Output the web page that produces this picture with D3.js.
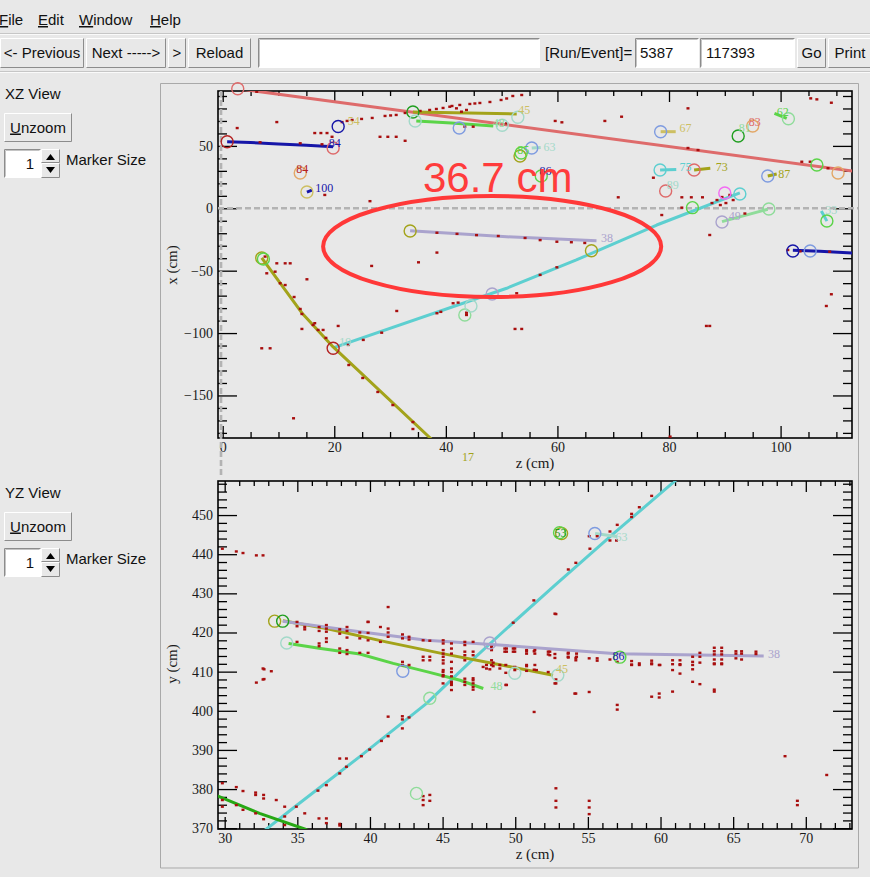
<!DOCTYPE html>
<html>
<head>
<meta charset="utf-8">
<script src="https://cdn.jsdelivr.net/npm/d3@7"></script>
<style>
  body { margin: 0; background: #e8e8e8; overflow: hidden; }
  svg text { font-kerning: normal; }
</style>
</head>
<body>
<svg id="display" width="870" height="877"></svg>
<script>
// ---------- event 5387 / 117393 : reconstructed objects ----------
const runNumber = "5387";
const eventNumber = "117393";
const menuItems = ["File", "Edit", "Window", "Help"];

// XZ view ranges and ticks (cm)
const xzZRange = [-0.84, 112.8];
const xzXRange = [-184.1, 94.0];
const xzZTicks = [0, 20, 40, 60, 80, 100];
const xzXTicks = [-150, -100, -50, 0, 50];

// YZ view ranges and ticks (cm)
const yzZRange = [29.54, 73.18];
const yzYRange = [369.8, 458.7];
const yzZTicks = [30, 35, 40, 45, 50, 55, 60, 65, 70];
const yzYTicks = [370, 380, 390, 400, 410, 420, 430, 440, 450];

// track colours
const C = {
  salmon: "#de6b6b", darkred: "#b42222", navy: "#1616a8", orange: "#e3a766",
  olive: "#a3a31a", darkgreen: "#1f9e1f", paleteal: "#a3d9c9", cornflower: "#7e9be0",
  green: "#5bd448", cyan: "#5dcfd0", magenta: "#f36af3", lavender: "#aaa3cd",
  paleolive: "#cdbf62", palegreen: "#8fdc9a", darkgreen2: "#27a814"
};

// XZ tracks: [z, x]
const xzTracks = [
  { id: "salmon", color: C.salmon, pts: [[2.7, 95.8], [115.0, 28.6]] },
  { id: "84", color: C.navy, pts: [[0.8, 53.3], [5.0, 52.7], [10.0, 51.5], [15.0, 50.6], [19.8, 49.4]] },
  { id: "45", color: C.olive, pts: [[34.1, 77.2], [52.7, 75.6]] },
  { id: "48", color: C.green, pts: [[34.7, 70.0], [41.0, 68.3], [48.5, 65.9]] },
  { id: "38", color: C.lavender, pts: [[33.6, -18.0], [50.9, -22.8], [67.0, -26.0]] },
  { id: "19", color: C.cyan, pts: [[19.8, -111.9], [50.9, -64.1], [63.4, -41.4], [77.8, -13.4], [92.7, 12.3]] },
  { id: "17", color: C.olive, pts: [[7.0, -39.8], [14.2, -83.9], [19.8, -111.1], [37.2, -184.1], [40.0, -195.9]] },
  { id: "navyR", color: C.navy, pts: [[102.2, -33.6], [107.0, -34.5], [112.8, -35.9], [115.0, -36.4]] },
  { id: "49", color: C.palegreen, pts: [[89.5, -10.7], [97.7, -0.8]] },
  { id: "33", color: C.cyan, pts: [[108.3, -10.3], [107.3, -2.2]] },
  { id: "67", color: C.paleolive, pts: [[78.5, 61.4], [81.2, 61.4]] },
  { id: "75", color: C.cyan, pts: [[78.4, 30.7], [81.3, 31.1]] },
  { id: "73", color: C.olive, pts: [[84.5, 30.7], [87.4, 32.0]] },
  { id: "87", color: C.olive, pts: [[97.7, 25.9], [99.3, 27.5]] },
  { id: "62", color: C.green, pts: [[98.9, 76.1], [101.1, 72.1]] },
  { id: "63", color: C.paleteal, pts: [[55.4, 48.3], [57.0, 48.8]] },
  { id: "100", color: C.navy, pts: [[15.1, 13.0], [16.0, 14.5]] }
];

// XZ vertices: [z, x, colour]
const xzVertices = [
  [2.7, 95.8, C.salmon], [0.8, 53.3, C.darkred], [19.8, 48.3, C.salmon], [20.7, 65.6, C.navy],
  [13.9, 28.3, C.orange], [15.1, 13.0, C.paleolive], [34.1, 77.2, C.darkgreen], [34.5, 69.9, C.paleteal],
  [42.4, 64.3, C.cornflower], [50.1, 66.5, C.paleteal], [52.9, 73.0, C.paleteal], [53.3, 41.9, C.olive],
  [53.5, 44.3, C.green], [55.4, 48.3, C.cornflower], [57.1, 25.9, C.green], [78.5, 61.4, C.cornflower],
  [95.0, 66.0, C.orange], [92.4, 57.9, C.darkgreen], [101.4, 71.8, C.palegreen], [78.4, 30.7, C.cyan],
  [84.5, 30.7, C.salmon], [79.4, 13.9, C.salmon], [97.7, 25.9, C.cornflower], [84.2, 0.5, C.green],
  [106.5, 34.7, C.green], [110.3, 28.3, C.orange], [90.0, 12.3, C.magenta], [92.7, 11.5, C.cyan],
  [89.5, -11.0, C.lavender], [97.9, -0.6, C.palegreen], [108.3, -10.2, C.green], [102.2, -34.2, C.navy],
  [105.3, -34.2, C.cornflower], [33.6, -18.2, C.olive], [66.1, -34.0, C.olive], [7.0, -39.8, C.olive],
  [7.3, -40.6, C.green], [19.8, -112.2, C.darkred], [48.3, -68.7, C.lavender], [43.4, -85.5, C.palegreen],
  [44.5, -78.3, C.paleteal]
];

// XZ track labels: [text, z, x, colour]
const xzLabels = [
  ["84", 19.0, 52.3, C.navy], ["45", 53.0, 78.5, C.paleolive], ["48", 48.4, 68.6, C.palegreen],
  ["38", 67.8, -23.6, C.lavender], ["19", 20.9, -107.0, C.paleteal], ["17", 42.9, -199.5, C.olive],
  ["67", 81.9, 64.3, C.paleolive], ["83", 94.3, 69.5, C.salmon], ["81", 92.5, 64.3, C.palegreen],
  ["62", 99.3, 77.2, C.green], ["75", 81.9, 33.3, C.cyan], ["73", 88.4, 33.3, C.olive],
  ["89", 79.6, 18.5, C.paleteal], ["87", 99.6, 27.5, C.olive], ["63", 57.5, 49.3, C.paleteal],
  ["85", 52.8, 46.5, C.green], ["86", 56.8, 29.5, C.navy], ["84", 13.2, 31.5, C.darkred],
  ["100", 16.6, 16.5, C.navy], ["54", 22.4, 70.0, C.paleolive], ["49", 90.7, -6.0, C.lavender],
  ["33", 108.0, -1.5, C.paleteal]
];

// XZ hits: [z, x]
const xzHits = [
  [6.1, 93.4], [2.6, 64.3], [9.7, 69.1],
  [21.4, 69.1], [22.3, 70.0], [23.2, 70.8], [24.9, 71.6], [26.8, 72.4], [29.1, 74.0], [30.1, 74.4],
  [31.1, 74.8], [32.7, 76.4], [35.4, 78.0], [37.1, 78.8], [38.3, 79.6], [39.5, 80.4], [41.1, 82.0],
  [42.5, 82.8], [44.3, 83.6], [45.2, 84.0], [46.1, 84.4], [47.9, 85.2], [49.9, 86.8], [50.9, 88.0],
  [52.0, 90.0], [53.6, 90.8],
  [16.5, 60.3], [17.6, 60.3], [18.7, 60.3], [19.6, 57.3], [28.2, 57.3], [29.6, 57.3], [31.1, 57.3], [32.7, 54.1],
  [18.3, 10.7], [26.4, 5.7], [38.4, -35.5],
  [40.7, 81.4], [41.9, 80.1], [42.8, 77.4], [43.7, 78.8], [44.9, 65.4], [43.4, 65.4],
  [59.6, 70.0], [60.8, 68.9], [68.5, 70.0], [71.5, 73.4], [83.4, 80.1], [105.4, 88.1], [106.5, 87.3], [109.1, 84.6],
  [77.2, 24.5], [70.9, 8.8], [82.3, 8.8], [84.0, 8.8], [86.0, 8.8], [82.3, 0.5], [78.7, -5.4], [87.3, -21.4],
  [88.6, 6.6], [89.5, 9.0], [90.2, 4.2], [90.9, 10.7], [91.5, 6.6], [89.2, 2.6], [87.7, 4.2],
  [93.6, -4.2], [103.8, 37.3], [105.3, 37.3], [108.5, 32.1], [50.9, 68.1],
  [101.3, -33.4], [103.5, -34.5], [108.8, -34.8],
  [54.2, -23.8], [56.9, -25.5], [59.9, -26.8], [62.5, -27.2], [64.9, -27.8], [38.4, -19.6], [49.4, -22.2],
  [42.0, -20.5], [45.5, -21.5], [85.2, 46.7], [83.4, 48.3],
  [7.6, -38.7], [9.7, -44.1], [7.9, -52.1], [9.4, -50.8], [11.2, -44.1], [12.1, -44.1], [15.1, -56.9], [10.3, -60.1],
  [11.2, -61.5], [12.8, -71.1], [13.9, -80.7], [14.2, -84.7], [16.2, -93.5], [17.1, -97.5], [18.5, -103.9],
  [22.6, -125.6], [25.1, -136.0], [27.8, -147.2], [30.5, -157.7], [34.1, -171.3], [34.1, -176.9],
  [16.5, -92.1], [18.0, -97.5], [14.2, -96.7], [20.7, -94.3], [7.0, -112.2], [8.5, -112.2],
  [22.5, -109.5], [25.2, -105.5], [28.5, -99.7], [31.2, -82.3], [38.4, -84.1], [39.1, -83.0], [41.3, -76.1],
  [42.2, -75.6], [43.7, -83.7], [43.7, -85.5], [26.7, -46.2], [35.1, -43.3], [12.7, -168.3],
  [52.4, -96.7], [53.6, -96.7], [52.7, -68.1], [59.9, -47.3], [56.9, -53.4], [86.7, -94.3], [87.3, -94.3],
  [80.2, -183.0], [109.1, -68.9], [108.2, -78.3], [6.7, 52.9], [13.9, 52.1], [17.8, 51.3]
];

// YZ tracks: [z, y]
const yzTracks = [
  { id: "19", color: C.cyan, pts: [[32.6, 369.0], [34.7, 375.1], [39.3, 388.3], [43.9, 401.9], [46.9, 412.5], [48.9, 419.3], [52.7, 432.0], [56.9, 445.7], [60.9, 458.4], [61.2, 459.4]] },
  { id: "dg", color: C.darkgreen2, pts: [[29.3, 378.6], [32.4, 373.8], [35.5, 369.8], [36.0, 369.0]] },
  { id: "45", color: C.olive, pts: [[34.0, 423.0], [37.0, 421.0], [41.1, 417.6], [45.0, 414.6], [48.5, 412.1], [52.6, 409.1]] },
  { id: "38", color: C.lavender, pts: [[34.0, 422.9], [39.3, 420.2], [43.9, 418.0], [48.9, 416.8], [57.0, 414.6], [67.1, 414.0]] },
  { id: "48", color: C.green, pts: [[34.4, 417.2], [36.5, 416.0], [39.3, 414.5], [41.6, 412.1], [43.9, 410.0], [46.2, 407.8], [47.8, 405.7]] },
  { id: "63", color: C.paleteal, pts: [[55.5, 445.3], [57.0, 444.5]] }
];

// YZ vertices: [z, y, colour]
const yzVertices = [
  [33.44, 422.9, C.olive], [33.99, 422.9, C.darkgreen], [34.27, 417.3, C.paleteal], [42.26, 410.1, C.cornflower],
  [44.12, 403.2, C.palegreen], [43.2, 378.9, C.palegreen], [49.97, 409.6, C.paleteal], [52.93, 409.1, C.paleteal],
  [48.25, 417.3, C.lavender], [53.19, 445.3, C.olive], [53.05, 445.5, C.green], [55.48, 445.3, C.cornflower],
  [57.2, 413.7, C.green]
];

// YZ track labels: [text, z, y, colour]
const yzLabels = [
  ["45", 52.8, 410.6, C.paleolive], ["38", 67.4, 414.6, C.lavender], ["48", 48.3, 406.4, C.palegreen],
  ["63", 56.9, 444.4, C.paleteal], ["53", 52.7, 445.4, C.darkgreen], ["86", 56.7, 413.9, C.navy]
];

// YZ hits: [z, y]
const yzHits = [
  [34.98, 422.7], [34.98, 421.6], [35.51, 421.4], [35.51, 420.8], [36.50, 421.4], [36.50, 420.4], [37.00, 421.9],
  [37.00, 421.0], [37.00, 420.2], [37.00, 418.5], [37.00, 417.6], [37.92, 420.8], [37.92, 419.7], [38.42, 421.4],
  [38.42, 420.4], [38.42, 418.7], [39.30, 420.0], [39.30, 418.5], [39.87, 422.7], [39.87, 419.9], [39.87, 418.0],
  [40.72, 421.4], [40.72, 417.6], [41.25, 421.0], [41.25, 420.0], [41.25, 418.9], [42.24, 419.5], [42.24, 418.5],
  [42.69, 418.9], [42.69, 418.2], [43.66, 418.0], [44.12, 417.9], [45.04, 418.0], [45.04, 417.2], [45.04, 415.5],
  [45.04, 414.6], [45.04, 413.8], [45.04, 412.9], [45.04, 412.1], [45.61, 417.2], [45.61, 415.9], [45.61, 414.6],
  [45.61, 412.5], [46.53, 417.6], [46.53, 416.8], [46.53, 415.1], [46.53, 414.2], [46.53, 412.9], [47.10, 417.6],
  [47.10, 415.1], [47.10, 414.2], [48.37, 416.3], [48.37, 415.5], [48.37, 412.9], [48.37, 411.7], [49.40, 415.9],
  [49.40, 415.1], [49.86, 415.9], [49.86, 415.1], [50.78, 415.5], [50.78, 414.6], [51.35, 415.5], [51.35, 414.6],
  [52.38, 415.1], [52.38, 414.2], [53.64, 414.6], [53.64, 413.8], [54.22, 414.6], [54.22, 413.8],
  [34.98, 417.6], [36.50, 417.2], [36.50, 416.5], [37.92, 415.9], [37.92, 414.8], [38.42, 415.5], [38.42, 414.5],
  [39.30, 414.8], [39.87, 414.8], [42.24, 412.5], [42.24, 411.7], [42.69, 411.7], [43.66, 413.8], [43.66, 412.9],
  [44.12, 413.8], [44.12, 412.9], [45.04, 410.4], [45.04, 409.1], [45.61, 410.8], [45.61, 409.9], [45.61, 407.4],
  [45.61, 406.6], [45.61, 405.3], [46.53, 408.2], [46.53, 407.4], [47.10, 407.8], [47.10, 407.0], [47.10, 406.1],
  [48.02, 411.7], [48.02, 410.8], [48.48, 412.3], [48.48, 411.4], [48.94, 411.7], [48.94, 410.8], [49.40, 406.6],
  [50.78, 411.7], [51.35, 411.7], [51.46, 410.4], [52.73, 424.8], [52.73, 407.0], [54.10, 404.4],
  [32.64, 410.8], [33.21, 410.1], [32.64, 408.0], [41.25, 426.5], [32.18, 407.2], [32.71, 408.1], [32.71, 410.6],
  [41.25, 398.5], [42.23, 398.6], [42.23, 397.8], [42.23, 395.5], [42.69, 398.3], [40.79, 392.3], [41.25, 393.5],
  [39.98, 390.1], [39.41, 388.4], [37.92, 387.8], [38.38, 387.8], [38.38, 385.7], [37.92, 384.0], [37.00, 381.0],
  [36.42, 379.6], [35.51, 373.8], [34.93, 375.5], [34.13, 375.5], [34.13, 373.0], [34.13, 370.8], [33.55, 377.2],
  [32.68, 378.5], [32.68, 377.6], [32.13, 379.1], [32.13, 378.5], [31.26, 379.5], [30.80, 380.5], [29.84, 381.5],
  [29.84, 377.2], [29.84, 375.5], [30.80, 375.9], [31.26, 374.7], [32.13, 373.8], [32.68, 372.3], [36.49, 372.5],
  [37.00, 372.5], [37.00, 371.3], [37.92, 371.1], [37.92, 370.7], [43.66, 378.2], [43.66, 377.2], [43.66, 375.9],
  [44.12, 378.5], [44.12, 377.0], [45.03, 409.9], [45.03, 408.8], [45.03, 407.0], [45.61, 408.8], [45.61, 407.0],
  [46.53, 406.6], [47.10, 408.3], [47.10, 405.4], [47.79, 411.2], [48.25, 410.6],
  [29.84, 441.4], [30.80, 440.7], [31.26, 440.3], [32.18, 439.7], [32.64, 439.7], [39.87, 422.7],
  [59.39, 454.9], [58.54, 452.0], [58.01, 450.3], [58.01, 449.5], [57.02, 447.5], [56.52, 445.8], [56.52, 443.5],
  [56.97, 443.5], [55.64, 444.6], [55.09, 444.6], [55.14, 441.4], [54.17, 437.8], [53.65, 436.1], [51.28, 428.2],
  [49.86, 422.5], [52.80, 424.7], [49.28, 415.9], [49.28, 415.1], [49.97, 415.9], [49.97, 415.1], [50.78, 415.2],
  [51.30, 415.2], [52.27, 415.1], [52.27, 414.4], [52.73, 414.5], [52.73, 413.5], [53.65, 414.8], [53.65, 413.6],
  [54.17, 413.5], [54.17, 412.9], [55.09, 413.4], [55.64, 413.4], [55.64, 412.8], [56.52, 413.1], [57.02, 412.5],
  [58.01, 412.7], [58.01, 411.8], [58.54, 412.1], [59.39, 412.8], [59.39, 412.1], [59.96, 411.7], [60.83, 412.9],
  [60.83, 411.9], [61.34, 412.9], [61.34, 411.9], [62.21, 413.8], [62.21, 412.5], [62.21, 411.7], [62.71, 414.8],
  [62.71, 413.8], [62.71, 412.3], [63.70, 416.1], [63.70, 415.2], [63.70, 414.4], [63.70, 413.1], [63.70, 412.1],
  [64.21, 416.1], [64.21, 415.2], [64.21, 414.4], [64.21, 413.1], [64.21, 412.1], [65.19, 415.2], [65.19, 414.6],
  [65.19, 413.4], [65.58, 415.2], [65.58, 414.6], [65.58, 413.1], [66.57, 415.1], [66.57, 414.5],
  [49.35, 411.7], [49.35, 409.7], [49.97, 411.2], [49.97, 410.4], [50.78, 411.4], [50.78, 410.2], [51.30, 410.5],
  [52.27, 409.9], [52.80, 408.0], [52.80, 407.0], [49.35, 406.6], [51.30, 399.7], [54.17, 404.4], [55.09, 404.8],
  [57.02, 401.5], [57.02, 400.3], [58.01, 411.7], [58.54, 411.7], [59.39, 411.9], [59.39, 403.6], [59.91, 411.7],
  [59.91, 404.4], [59.91, 403.4], [60.83, 410.4], [60.83, 404.9], [61.34, 409.5], [62.21, 407.4], [62.71, 406.8],
  [63.70, 405.4], [63.70, 404.9], [68.57, 388.4], [71.44, 383.6], [69.42, 377.0], [69.42, 375.9], [52.80, 380.2],
  [52.80, 377.0], [52.80, 375.3], [55.09, 377.0], [55.09, 375.3], [55.09, 373.6], [61.34, 411.7], [62.21, 410.6],
  [63.70, 411.9], [64.21, 411.9]
];

// measurement annotation in the XZ view
const annotationText = "36.7 cm";
const annotationTextAt = [35.9, 13.1];          // [z, x]
const annotationEllipse = { z: 48.3, x: -30.6, rz: 30.3, rx: 40.5 };

// ---------- drawing ----------
const svg = d3.select("#display");
const BG = "#e8e8e8";
const UI_FONT = "'Liberation Sans', Arial, sans-serif";
const AX_FONT = "'Liberation Serif', 'Times New Roman', serif";

svg.append("rect").attr("width", 870).attr("height", 877).attr("fill", BG);

// --- widgets ---
function raised(g, x, y, w, h) {
  g.append("rect").attr("x", x).attr("y", y).attr("width", w).attr("height", h).attr("fill", BG);
  g.append("path").attr("d", `M${x + 0.5},${y + h - 0.5}V${y + 0.5}H${x + w - 0.5}`).attr("stroke", "#ffffff").attr("fill", "none");
  g.append("path").attr("d", `M${x + 0.5},${y + h - 0.5}H${x + w - 0.5}V${y + 0.5}`).attr("stroke", "#8c8c8c").attr("fill", "none");
}
function sunken(g, x, y, w, h) {
  g.append("rect").attr("x", x).attr("y", y).attr("width", w).attr("height", h).attr("fill", "#ffffff");
  g.append("path").attr("d", `M${x + 0.5},${y + h - 0.5}V${y + 0.5}H${x + w - 0.5}`).attr("stroke", "#8c8c8c").attr("fill", "none");
  g.append("path").attr("d", `M${x + 1.5},${y + h - 1.5}V${y + 1.5}H${x + w - 1.5}`).attr("stroke", "#c4c4c4").attr("fill", "none");
}
function label(g, x, y, str, opts = {}) {
  const t = g.append("text").attr("x", x).attr("y", y)
    .attr("font-family", UI_FONT).attr("font-size", opts.size || 15).attr("fill", "#111")
    .attr("text-anchor", opts.anchor || "start");
  if (opts.underlineFirst) {
    t.append("tspan").attr("text-decoration", "underline").text(str[0]);
    t.append("tspan").text(str.slice(1));
  } else t.text(str);
  return t;
}
function button(g, x, y, w, h, str, underlineFirst) {
  raised(g, x, y, w, h);
  label(g, x + w / 2, y + h / 2 + 5, str, { anchor: "middle", underlineFirst });
}

const ui = svg.append("g");
// menu bar
const menuX = [-1, 38, 79, 150];
menuItems.forEach((m, i) => label(ui, menuX[i], 25, m, { underlineFirst: true }));
ui.append("line").attr("x1", 0).attr("x2", 870).attr("y1", 33.5).attr("y2", 33.5).attr("stroke", "#c6c6c6");
ui.append("line").attr("x1", 0).attr("x2", 870).attr("y1", 34.5).attr("y2", 34.5).attr("stroke", "#fafafa");

// tool bar
button(ui, 0, 38, 84, 30, "<- Previous");
button(ui, 86, 38, 80, 30, "Next ----->");
button(ui, 168, 38, 18, 30, ">");
button(ui, 188, 38, 63, 30, "Reload");
sunken(ui, 258, 38, 282, 30);
label(ui, 545, 58, "[Run/Event]=");
sunken(ui, 635, 38, 64, 30);
label(ui, 640, 58, runNumber);
sunken(ui, 700, 38, 95, 30);
label(ui, 706, 58, eventNumber);
button(ui, 797, 38, 29, 30, "Go");
button(ui, 828, 38, 44, 30, "Print");
ui.append("line").attr("x1", 0).attr("x2", 870).attr("y1", 71.5).attr("y2", 71.5).attr("stroke", "#c6c6c6");
ui.append("line").attr("x1", 0).attr("x2", 870).attr("y1", 72.5).attr("y2", 72.5).attr("stroke", "#fafafa");

// side controls for each view
function sidePanel(y0, title) {
  const g = svg.append("g");
  label(g, 5, y0 + 5, title);
  button(g, 4, y0 + 19, 68, 29, "Unzoom", true);
  sunken(g, 4, y0 + 55, 37, 29);
  label(g, 34, y0 + 75, "1", { anchor: "end" });
  raised(g, 41, y0 + 55, 19, 14);
  raised(g, 41, y0 + 69, 19, 15);
  g.append("path").attr("d", `M${46},${y0 + 66}L${50.5},${y0 + 60}L${55},${y0 + 66}Z`).attr("fill", "#000");
  g.append("path").attr("d", `M${46},${y0 + 73}L${50.5},${y0 + 79}L${55},${y0 + 73}Z`).attr("fill", "#000");
  label(g, 66, y0 + 71, "Marker Size");
}
sidePanel(94, "XZ View");
sidePanel(493, "YZ View");

// canvas frame
svg.append("path").attr("d", "M160.5,868V83.5H858.5V868H160.5").attr("fill", "none").attr("stroke", "#a9a9a9");

// --- plots ---
function minorValues(domain, step, majors) {
  const lo = Math.ceil(Math.min(...domain) / step) * step;
  const hi = Math.max(...domain);
  return d3.range(lo, hi + 1e-9, step).filter(v => !majors.some(m => Math.abs(m - v) < 1e-6));
}

function makePlot(cfg) {
  const g = svg.append("g");
  const sx = d3.scaleLinear().domain(cfg.xDomain).range([cfg.left, cfg.right]);
  const sy = d3.scaleLinear().domain(cfg.yDomain).range([cfg.bottom, cfg.top]);
  const clipId = "clip-" + cfg.name;
  svg.append("clipPath").attr("id", clipId).append("rect")
    .attr("x", cfg.left).attr("y", cfg.top).attr("width", cfg.right - cfg.left).attr("height", cfg.bottom - cfg.top);

  const styleAxis = sel => {
    sel.select(".domain").remove();
    sel.selectAll("line").attr("stroke", "#000").attr("stroke-width", 1.3);
    sel.selectAll("text").attr("font-family", AX_FONT).attr("font-size", 14).attr("fill", "#1a1a1a");
  };
  const xMinor = minorValues(cfg.xDomain, cfg.xMinor, cfg.xTicks);
  const yMinor = minorValues(cfg.yDomain, cfg.yMinor, cfg.yTicks);

  g.append("g").attr("transform", `translate(0,${cfg.bottom})`)
    .call(d3.axisBottom(sx).tickValues(cfg.xTicks).tickSize(-12).tickPadding(4).tickFormat(d3.format("d"))).call(styleAxis);
  g.append("g").attr("transform", `translate(0,${cfg.bottom})`)
    .call(d3.axisBottom(sx).tickValues(xMinor).tickSize(-6).tickFormat("")).call(styleAxis);
  g.append("g").attr("transform", `translate(0,${cfg.top})`)
    .call(d3.axisTop(sx).tickValues(cfg.xTicks).tickSize(-11).tickFormat("")).call(styleAxis);
  g.append("g").attr("transform", `translate(0,${cfg.top})`)
    .call(d3.axisTop(sx).tickValues(xMinor).tickSize(-5).tickFormat("")).call(styleAxis);
  g.append("g").attr("transform", `translate(${cfg.left},0)`)
    .call(d3.axisLeft(sy).tickValues(cfg.yTicks).tickSize(-19).tickPadding(5).tickFormat(d3.format("d"))).call(styleAxis);
  g.append("g").attr("transform", `translate(${cfg.left},0)`)
    .call(d3.axisLeft(sy).tickValues(yMinor).tickSize(-9).tickFormat("")).call(styleAxis);
  g.append("g").attr("transform", `translate(${cfg.right},0)`)
    .call(d3.axisRight(sy).tickValues(cfg.yTicks).tickSize(-19).tickFormat("")).call(styleAxis);
  g.append("g").attr("transform", `translate(${cfg.right},0)`)
    .call(d3.axisRight(sy).tickValues(yMinor).tickSize(-9).tickFormat("")).call(styleAxis);

  g.append("rect").attr("x", cfg.left).attr("y", cfg.top)
    .attr("width", cfg.right - cfg.left).attr("height", cfg.bottom - cfg.top)
    .attr("fill", "none").attr("stroke", "#000").attr("stroke-width", 1.6);

  g.append("text").attr("x", (cfg.left + cfg.right) / 2).attr("y", cfg.bottom + 30)
    .attr("text-anchor", "middle").attr("font-family", AX_FONT).attr("font-size", 15).attr("fill", "#1a1a1a")
    .text(cfg.xTitle);
  g.append("text").attr("transform", `translate(177,${cfg.yTitleAt}) rotate(-90)`)
    .attr("text-anchor", "middle").attr("font-family", AX_FONT).attr("font-size", 15).attr("fill", "#1a1a1a")
    .text(cfg.yTitle);

  return { g, sx, sy, clipId };
}

function drawEvent(p, tracks, vertices, labels, hits) {
  const line = d3.line().x(d => p.sx(d[0])).y(d => p.sy(d[1]));
  const data = p.g.append("g");
  const lines = data.append("g").attr("clip-path", `url(#${p.clipId})`);
  lines.selectAll("path").data(tracks).join("path")
    .attr("d", d => line(d.pts)).attr("fill", "none").attr("stroke", d => d.color)
    .attr("stroke-width", 3).attr("stroke-linejoin", "round");
  data.append("g").attr("clip-path", `url(#${p.clipId})`).selectAll("rect").data(hits).join("rect")
    .attr("x", d => p.sx(d[0]) - 1.5).attr("y", d => p.sy(d[1]) - 1.2)
    .attr("width", 3).attr("height", 2.4).attr("fill", "#a80e0e");
  data.append("g").selectAll("circle").data(vertices).join("circle")
    .attr("cx", d => p.sx(d[0])).attr("cy", d => p.sy(d[1])).attr("r", 6)
    .attr("fill", "none").attr("stroke", d => d[2]).attr("stroke-width", 1.4);
  data.append("g").selectAll("text").data(labels).join("text")
    .attr("x", d => p.sx(d[1])).attr("y", d => p.sy(d[2]) + 4)
    .attr("font-family", AX_FONT).attr("font-size", 12).attr("fill", d => d[3]).text(d => d[0]);
}

// XZ view
const xz = makePlot({
  name: "xz", left: 218, right: 852, top: 91, bottom: 438,
  xDomain: xzZRange, yDomain: xzXRange, xTicks: xzZTicks, yTicks: xzXTicks, xMinor: 5, yMinor: 10,
  xTitle: "z (cm)", yTitle: "x (cm)", yTitleAt: 265
});
// detector boundary guides (z = 0 and x = 0)
const guide = { stroke: "#b3b3b3", width: 2.6, dash: "6,3" };
xz.g.append("line")
  .attr("x1", xz.sx(-0.3)).attr("x2", xz.sx(-0.3)).attr("y1", xz.sy(xzXRange[1])).attr("y2", 477)
  .attr("stroke", guide.stroke).attr("stroke-width", guide.width).attr("stroke-dasharray", guide.dash);
xz.g.append("line")
  .attr("x1", xz.sx(xzZRange[0])).attr("x2", 858).attr("y1", xz.sy(0)).attr("y2", xz.sy(0))
  .attr("stroke", guide.stroke).attr("stroke-width", guide.width).attr("stroke-dasharray", guide.dash);
drawEvent(xz, xzTracks, xzVertices, xzLabels, xzHits);

// YZ view
const yz = makePlot({
  name: "yz", left: 218, right: 852, top: 481, bottom: 829,
  xDomain: yzZRange, yDomain: yzYRange, xTicks: yzZTicks, yTicks: yzYTicks, xMinor: 1, yMinor: 2,
  xTitle: "z (cm)", yTitle: "y (cm)", yTitleAt: 664
});
drawEvent(yz, yzTracks, yzVertices, yzLabels, yzHits);

// measurement annotation
const ann = xz.g.append("g");
const ec = annotationEllipse;
ann.append("ellipse")
  .attr("cx", xz.sx(ec.z)).attr("cy", xz.sy(ec.x))
  .attr("rx", xz.sx(ec.z + ec.rz) - xz.sx(ec.z)).attr("ry", xz.sy(ec.x - ec.rx) - xz.sy(ec.x))
  .attr("fill", "none").attr("stroke", "#ff3838").attr("stroke-width", 4);
ann.append("text").attr("x", xz.sx(annotationTextAt[0])).attr("y", xz.sy(annotationTextAt[1]))
  .attr("font-family", UI_FONT).attr("font-size", 42).attr("fill", "#ff3c3c").text(annotationText);
</script>
</body>
</html>
